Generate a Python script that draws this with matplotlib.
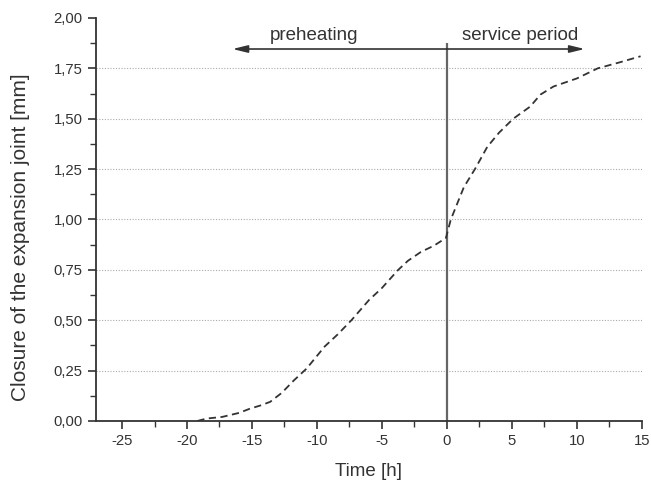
import matplotlib
matplotlib.use("Agg")
import matplotlib.pyplot as plt
from matplotlib.ticker import MultipleLocator, FuncFormatter

plt.rcParams['font.family'] = ['Liberation Sans', 'DejaVu Sans']

# curve: time [h] vs closure [mm]
t = [-19.2, -18.5, -17.3, -16, -15.2, -14.3, -13.6, -12.7, -11.8, -10.8,
     -9.4, -8.4, -7.35, -6, -5, -3.75, -3, -2, -1, -0.08, 0.3, 1.3, 2.2,
     3.1, 4.0, 5.1, 6.4, 7.2, 8.2, 10, 11.6, 13.3, 14.9]
closure = [0.0, 0.012, 0.02, 0.04, 0.06, 0.078, 0.095, 0.14, 0.2, 0.26,
           0.37, 0.43, 0.5, 0.6, 0.66, 0.75, 0.795, 0.839, 0.87, 0.908, 1.0,
           1.16, 1.255, 1.36, 1.43, 1.5, 1.56, 1.62, 1.66, 1.70, 1.75, 1.78,
           1.81]
grid_levels = [0.25, 0.5, 0.75, 1.0, 1.25, 1.5, 1.75]

ink = '#333333'

fig = plt.figure(figsize=(6.51, 4.82), dpi=100)
ax = fig.add_axes([0.1475, 0.1266, 0.8385, 0.8361])

ax.hlines(grid_levels, -27, 15, colors='#aaaaaa', linestyles=(0, (1, 1.5)),
          linewidth=0.8, zorder=1)

ax.plot(t, closure, color=ink, linestyle=(0, (4, 2.5)), linewidth=1.3, zorder=3)

# phase separator and arrows
ax.vlines(0, 0, 1.876, colors='#666666', linewidth=1.6, zorder=2)
arrow = dict(arrowstyle='-|>,head_length=0.9,head_width=0.22',
             color=ink, lw=1.2, shrinkA=0, shrinkB=0)
ax.annotate('', xy=(-16.5, 1.846), xytext=(0, 1.846), arrowprops=arrow)
ax.annotate('', xy=(10.6, 1.846), xytext=(0, 1.846), arrowprops=arrow)
ax.text(-10.2, 1.872, 'preheating', ha='center', va='bottom', fontsize=13.5, color=ink)
ax.text(1.15, 1.872, 'service period', ha='left', va='bottom', fontsize=13.5, color=ink)

ax.set_xlim(-27, 15)
ax.set_ylim(0, 2.0)
ax.xaxis.set_major_locator(MultipleLocator(5))
ax.xaxis.set_minor_locator(MultipleLocator(2.5))
ax.yaxis.set_major_locator(MultipleLocator(0.25))
ax.yaxis.set_minor_locator(MultipleLocator(0.125))
ax.yaxis.set_major_formatter(FuncFormatter(lambda v, p: f'{v:.2f}'.replace('.', ',')))
ax.xaxis.set_major_formatter(FuncFormatter(lambda v, p: f'{v:.0f}'))

for s in ['top', 'right']:
    ax.spines[s].set_visible(False)
for s in ['left', 'bottom']:
    ax.spines[s].set_color(ink)
    ax.spines[s].set_linewidth(1.3)

ax.tick_params(which='major', direction='out', length=6, width=1.2, colors=ink,
               labelsize=10.7)
ax.tick_params(which='minor', direction='out', length=4, width=1.0, colors=ink)

ax.set_xlabel('Time [h]', fontsize=13.5, color=ink)
ax.xaxis.set_label_coords(0.5, -0.105)
ax.set_ylabel('Closure of the expansion joint [mm]', fontsize=15, color=ink)
ax.yaxis.set_label_coords(-0.121, 0.455)

fig.savefig('out.png', dpi=100)
